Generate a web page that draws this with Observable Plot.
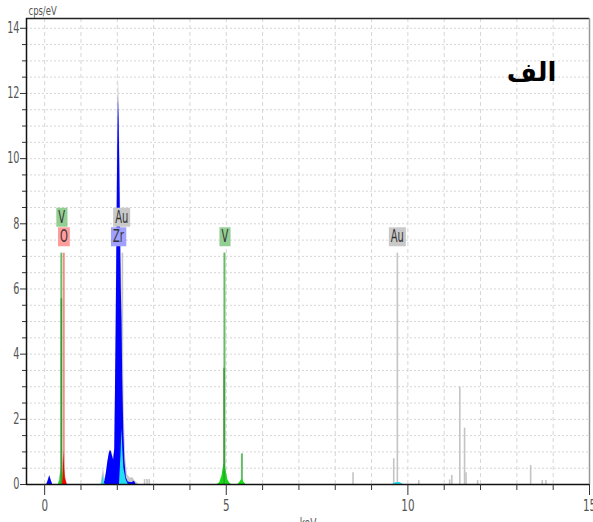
<!DOCTYPE html>
<html><head><meta charset="utf-8">
<script src="https://cdn.jsdelivr.net/npm/d3@7"></script>
<script src="https://cdn.jsdelivr.net/npm/@observablehq/plot@0.6"></script>
<style>
html,body{margin:0;padding:0;background:#fff;}
#chart{position:relative;width:593px;height:522px;overflow:hidden;}
</style></head><body><div id="chart"></div>
<script>
// ---------------- data ----------------
const xTicks = [0, 5, 10, 15];
const yTicks = [0, 2, 4, 6, 8, 10, 12, 14];
const xLabel = "keV";
const yLabel = "cps/eV";
const panelTitle = "الف";

// measured spectrum (grey) [keV, cps/eV]
const measuredSpectrum = [
  [0.05,0],[0.14,0.28],[0.22,0],[0.38,0],[0.45,0.5],[0.50,0.7],[0.53,1.0],[0.57,0.3],[0.62,0],
  [1.55,0],[1.62,0.5],[1.66,0.15],[1.70,0.4],[1.78,0.95],[1.82,1.05],[1.88,0.85],[1.93,1.0],
  [1.96,3.6],[1.98,7.5],[2.01,11.0],[2.03,12.5],[2.05,11.8],[2.08,9.5],[2.11,6.8],[2.13,5.8],
  [2.16,4.3],[2.19,2.2],[2.23,0.8],[2.28,0.3],[2.35,0.2],[2.41,0.2],[2.50,0.1],[2.60,0]
];
// Zr deconvolution (blue)
const zrSpectrum = [
  [0.06,0],[0.10,0.12],[0.14,0.27],[0.18,0.12],[0.22,0],
  [1.62,0],[1.66,0.1],[1.70,0.35],[1.74,0.7],[1.78,0.95],[1.81,1.05],[1.84,1.0],[1.87,0.85],
  [1.90,0.75],[1.93,1.1],[1.95,3.0],[1.97,5.0],[1.99,7.5],[2.01,10.2],[2.03,11.9],[2.05,11.2],
  [2.07,9.6],[2.09,7.6],[2.11,6.0],[2.13,5.0],[2.15,3.2],[2.18,1.6],[2.21,0.7],[2.25,0.2],
  [2.30,0.08],[2.40,0.05],[2.47,0.1],[2.52,0]
];
// V deconvolution (green)
const vSpectrum = [
  [0.38,0],[0.42,0.12],[0.45,0.45],[0.47,0.2],[0.50,0.3],[0.52,0.6],[0.55,0.15],[0.60,0],
  [4.75,0],[4.82,0.05],[4.88,0.25],[4.93,0.6],[4.96,0.63],[5.00,0.4],[5.04,0.15],[5.10,0.03],[5.15,0],
  [5.32,0],[5.38,0.08],[5.43,0.16],[5.48,0.08],[5.54,0]
];
// O deconvolution (red)
const oSpectrum = [
  [0.49,0],[0.51,0.25],[0.53,1.02],[0.55,0.45],[0.57,0.2],[0.62,0]
];
// fit / other (cyan)
const cyanSpectrum = [
  [1.57,0],[1.61,0.3],[1.64,0.05],[1.67,0],
  [2.06,0],[2.10,0.9],[2.13,1.7],[2.15,1.1],[2.18,0.5],[2.24,0.15],[2.30,0],
  [9.58,0],[9.68,0.06],[9.78,0.06],[9.88,0]
];
// narrow spikes in the spectrum [keV, cps/eV]
const vSpikes = [[0.46,5.7],[4.94,3.57]];

// element marker lines
const markerElements = ["V","O","Zr","Au","V","V","Au","Au","Au","Au","Au","Au","Au","Au","Au","Au","Au","Au","Au","Au","Au","Au","Au"];
const markerEnergies = [0.46,0.53,2.02,2.14,4.95,5.43,9.71,9.61,8.49,11.43,11.56,11.60,11.92,11.15,11.21,10.30,13.38,13.70,13.80,2.75,2.82,2.88,2.41];
const markerHeights  = [7.1,7.1,7.1,7.1,7.1,0.94,7.1,0.79,0.36,2.99,1.73,0.36,0.12,0.14,0.28,0.12,0.58,0.12,0.12,0.15,0.15,0.15,0.2];

// element labels
const labelElements = ["V","O","Au","Zr","V","Au"];
const labelEnergies = [0.47,0.53,2.12,2.03,4.96,9.71];
const labelLevels   = [8.2,7.6,8.2,7.6,7.6,7.6];

// ---------------- styles ----------------
const boxColors = {V:"#93cf93", O:"#ff9d9d", Au:"#c9c9c9", Zr:"#a0a0ff"};
const markerColors = {V:"#66bb66", O:"#ff5050", Zr:"#a8a8ff", Au:"#c4c4c4"};
const markerWidths = {V:2, O:1.2, Zr:2.5, Au:1.6};
const FONT = "'DejaVu Sans Condensed','Liberation Sans Narrow','DejaVu Sans',sans-serif";

const toObj = a => a.map(([e,c]) => ({e, c}));
const markers = markerElements.map((el,i) => ({el, e: markerEnergies[i], h: markerHeights[i]}));
const labels = labelElements.map((el,i) => ({el, e: labelEnergies[i], y: labelLevels[i]}));

const yGrid = d3.range(0.5, 14.01, 0.5);
const xGrid = d3.range(0, 15, 1);
const yMinor = yGrid.filter(v => !yTicks.includes(v));
const xMinor = d3.range(0, 15, 1).filter(v => !xTicks.includes(v));

const svg = Plot.plot({
  width: 593, height: 522,
  marginLeft: 26, marginTop: 18, marginRight: 4, marginBottom: 38,
  x: {domain: [-0.5, 15]},
  y: {domain: [0, 14.3]},
  style: {fontFamily: FONT, background: "white", overflow: "hidden"},
  marks: [
    Plot.ruleY(yGrid, {stroke: "#d6d6d6", strokeDasharray: "2,2"}),
    Plot.ruleX(xGrid, {stroke: "#d6d6d6", strokeDasharray: "4,3"}),
    Plot.areaY(toObj(measuredSpectrum), {x: "e", y: "c", fill: "#c8c8c8"}),
    Plot.ruleX(markers, {x: "e", y1: 0, y2: "h", stroke: d => markerColors[d.el], strokeWidth: d => markerWidths[d.el]}),
    Plot.areaY(toObj(zrSpectrum), {x: "e", y: "c", fill: "#0000ff"}),
    Plot.areaY(toObj(vSpectrum), {x: "e", y: "c", fill: "#14dc14"}),
    Plot.areaY(toObj(oSpectrum), {x: "e", y: "c", fill: "#ff0000"}),
    Plot.areaY(toObj(cyanSpectrum), {x: "e", y: "c", fill: "#22e0f0"}),
    Plot.ruleX(vSpikes, {x: d => d[0], y1: 0, y2: d => d[1], stroke: "#3a9a3a", strokeWidth: 1.5}),
    // frame
    Plot.ruleY([14.3], {stroke: "#222", strokeWidth: 1.5}),
    Plot.ruleX([15], {stroke: "#999", strokeWidth: 1.5}),
    Plot.ruleX([-0.5], {stroke: "#111", strokeWidth: 1.5}),
    Plot.ruleY([0], {stroke: "#111", strokeWidth: 1.5}),
    // axes
    Plot.axisY({ticks: yTicks, tickSize: 6, tickPadding: 1, fontSize: 15, fill: "#555", stroke: "#333", label: null}),
    Plot.axisY({ticks: yMinor, tickSize: 4, text: null, stroke: "#333", label: null}),
    Plot.axisX({ticks: xTicks, tickSize: 11, tickPadding: 4, fontSize: 16, fill: "#555", stroke: "#333", label: null}),
    Plot.axisX({ticks: xMinor, tickSize: 6, text: null, stroke: "#333", label: null}),
    // axis titles
    Plot.text([yLabel], {frameAnchor: "top-left", dx: 2, dy: -8, lineAnchor: "middle", textAnchor: "start", fontSize: 13, fill: "#555"}),
    Plot.text([xLabel], {frameAnchor: "bottom", dy: 34, lineAnchor: "top", fontSize: 14, fill: "#555"}),
    // panel title
    Plot.text([panelTitle], {frameAnchor: "top-right", dx: -58, dy: 54, lineAnchor: "middle", textAnchor: "middle", fontSize: 26, fontWeight: "bold", fill: "#000", fontFamily: "'DejaVu Sans',sans-serif"}),
    // element labels (last text mark)
    Plot.text(labels, {x: "e", y: "y", text: "el", fontSize: 17, fill: "#333", lineAnchor: "middle"})
  ]
});
document.getElementById("chart").append(svg);

// condense glyphs like the original narrow font
function condense(t, k) {
  const w = t.getComputedTextLength();
  t.setAttribute("textLength", w * k);
  t.setAttribute("lengthAdjust", "spacingAndGlyphs");
}
svg.querySelectorAll('g[aria-label="y-axis tick label"] text, g[aria-label="x-axis tick label"] text, g[aria-label="text"] text')
  .forEach(t => { if (t.textContent !== panelTitle) condense(t, 0.72); });

// boxes behind element labels
const textGroups = svg.querySelectorAll('g[aria-label="text"]');
const labelGroup = textGroups[textGroups.length - 1];
labelGroup.querySelectorAll("text").forEach((t, i) => {
  condense(t, 0.9);
  const b = t.getBBox();
  const r = document.createElementNS("http://www.w3.org/2000/svg", "rect");
  r.setAttribute("x", b.x - 2);
  r.setAttribute("y", b.y + 1);
  r.setAttribute("width", b.width + 4);
  r.setAttribute("height", b.height - 1);
  r.setAttribute("fill", boxColors[labels[i].el]);
  const tr = t.getAttribute("transform");
  if (tr) r.setAttribute("transform", tr);
  t.parentNode.insertBefore(r, t);
});
</script></body></html>
